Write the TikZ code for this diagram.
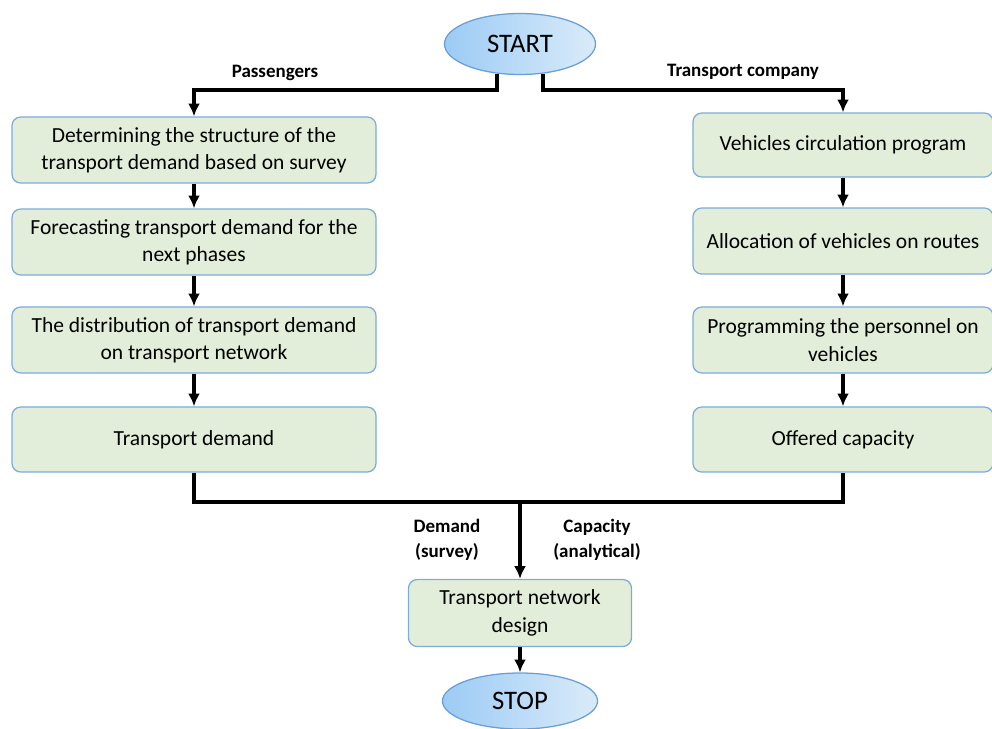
\documentclass[tikz,border=0pt]{standalone}
\usepackage{fontspec}
\setmainfont{Carlito}
\usepackage{tikz}
\usetikzlibrary{arrows.meta, positioning, shapes.geometric, calc}

\definecolor{boxfill}{HTML}{E2EED9}
\definecolor{boxline}{HTML}{7DACDC}
\definecolor{ovalleft}{HTML}{9CCBF5}
\definecolor{ovalright}{HTML}{DAEBF9}
\definecolor{ovalline}{HTML}{6A9FD6}

\tikzset{
	stepbox/.style={draw=boxline, fill=boxfill, line width=0.9pt, rounded corners=0.22cm,
		align=center, font=\fontsize{15.3}{19.5}\selectfont, inner sep=0pt},
	terminal/.style={ellipse, draw=ovalline, line width=0.9pt, left color=ovalleft,
		right color=ovalright, inner sep=0pt, font=\fontsize{19}{22}\selectfont},
	flow/.style={line width=2.6pt, -{Latex[length=3.2mm, width=3mm]}},
	wire/.style={line width=2.6pt},
	tag/.style={font=\bfseries\fontsize{13.5}{18}\selectfont, align=center}
}

\begin{document}
\begin{tikzpicture}[x=0.025cm, y=-0.025cm]
		\useasboundingbox (0,0) rectangle (992,729);
		% Terminals:
		\node[terminal, minimum width=3.775cm, minimum height=1.525cm](start) at (520,44){START};
		\node[terminal, minimum width=3.875cm, minimum height=1.4cm](stop) at (520,701){STOP};
		% Passengers branch:
		\node[stepbox, minimum width=9.1cm, minimum height=1.65cm](L1) at (194,150){Determining the structure of the\\transport demand based on survey};
		\node[stepbox, minimum width=9.1cm, minimum height=1.65cm](L2) at (194,242){Forecasting transport demand for the\\next phases};
		\node[stepbox, minimum width=9.1cm, minimum height=1.65cm](L3) at (194,340){The distribution of transport demand\\on transport network};
		\node[stepbox, minimum width=9.1cm, minimum height=1.625cm](L4) at (194,439.5){Transport demand};
		% Transport company branch:
		\node[stepbox, minimum width=7.5cm, minimum height=1.6cm](R1) at (843,145){Vehicles circulation program};
		\node[stepbox, minimum width=7.5cm, minimum height=1.65cm](R2) at (843,241){Allocation of vehicles on routes};
		\node[stepbox, minimum width=7.5cm, minimum height=1.65cm](R3) at (843,340){Programming the personnel on\\vehicles};
		\node[stepbox, minimum width=7.5cm, minimum height=1.625cm](R4) at (843,439.5){Offered capacity};
		% Result:
		\node[stepbox, minimum width=5.575cm, minimum height=1.675cm](design) at (520,613){Transport network\\design};
		% Labels:
		\node[tag](passengers) at (275,73){Passengers};
		\node[tag](company) at (743,72){Transport company};
		\node[tag](demand) at (447,540){Demand\\(survey)};
		\node[tag](capacity) at (597,540){Capacity\\(analytical)};
		% Wires:
		\coordinate (PL) at (194,90);
		\coordinate (PR) at (843,90);
		\coordinate (MJ) at (520,502);
		\draw[flow] (start.232) |- (PL) -- (L1.north);
		\draw[flow] (start.308) |- (PR) -- (R1.north);
		\draw[flow] (L1) -- (L2);
		\draw[flow] (L2) -- (L3);
		\draw[flow] (L3) -- (L4);
		\draw[flow] (R1) -- (R2);
		\draw[flow] (R2) -- (R3);
		\draw[flow] (R3) -- (R4);
		\draw[wire] (L4.south) |- (MJ) -| (R4.south);
		\draw[flow] (MJ) -- (design.north);
		\draw[flow] (design) -- (stop);
	\end{tikzpicture}
\end{document}
